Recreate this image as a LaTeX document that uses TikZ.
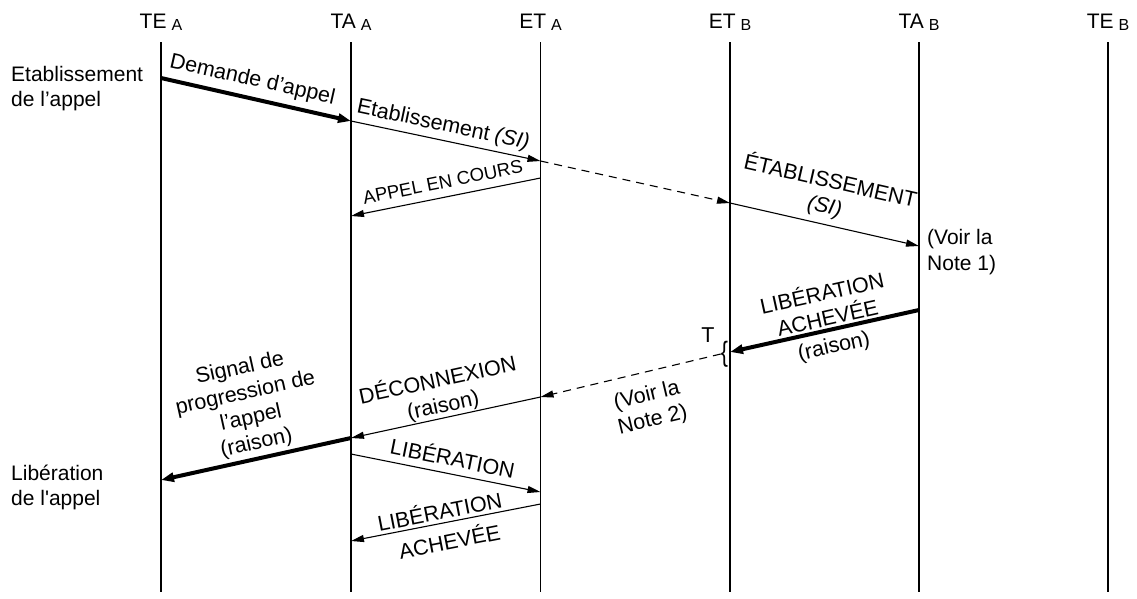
\documentclass[tikz,border=0pt]{standalone}
\usepackage{fontspec}
\setmainfont{Liberation Sans}
\usetikzlibrary{arrows.meta}

% subscript used in the lifeline headings
\newcommand{\lsub}[1]{\hspace{5pt}{\fontsize{16}{16}\selectfont\raisebox{-2.5pt}{#1}}}

\begin{document}
\begin{tikzpicture}[x=1pt,y=-1pt,
  font=\fontsize{21.5}{25.5}\selectfont,
  lifeline/.style={line width=1.1pt},
  msg/.style={line width=1.1pt,-{Triangle[length=13pt,width=7pt]}},
  bigmsg/.style={line width=4pt,-{Triangle[length=13pt,width=9pt]}},
  dmsg/.style={msg,dash pattern=on 8pt off 6pt},
  lbl/.style={sloped,align=center},
  head/.style={anchor=base,inner sep=0pt,font=\fontsize{21}{24}\selectfont},
  side/.style={align=left,anchor=base west,inner sep=0pt,font=\fontsize{21}{25}\selectfont}
]
\useasboundingbox (0,0) rectangle (1137,598);

% lifelines and their headings
\foreach \n/\x/\t/\s in {teA/161/TE/A, taA/351/TA/A, etA/540.5/ET/A,
                         etB/730/ET/B, taB/919/TA/B, teB/1108/TE/B}{
  \coordinate (\n-top) at (\x,42);
  \coordinate (\n-bot) at (\x,592);
  \node[head] (\n-head) at (\x,28) {\t\lsub{\s}};
  \draw[lifeline] (\n-top) -- (\n-bot);
}

% events on the lifelines
\coordinate (e1) at (161,78);
\coordinate (e2) at (351,121);
\coordinate (e3) at (540.5,161);
\coordinate (e4) at (730,203);
\coordinate (e5) at (919,246);
\coordinate (e6) at (540.5,178);
\coordinate (e7) at (351,216);
\coordinate (e8) at (919,310);
\coordinate (e9) at (730,352);
\coordinate (e10) at (540.5,397);
\coordinate (e11) at (351,438);
\coordinate (e12) at (161,480);
\coordinate (e13) at (351,454);
\coordinate (e14) at (540.5,492);
\coordinate (e15) at (540.5,504);
\coordinate (e16) at (351,541);

% side captions (anchored on the baseline of their last line)
\node[side] (phase1) at (11,106) {Etablissement\\de l’appel};
\node[side] (phase2) at (11,505) {Libération\\de l\textquotesingle appel};

% call set-up
\draw[bigmsg] (e1) -- node[lbl,above,inner sep=6pt,pos=0.46] (l1) {Demande d’appel} (e2);
\draw[msg] (e2) -- node[lbl,above,inner sep=4pt,pos=0.47] (l2) {Etablissement \textit{(SI)}} (e3);
\draw[dmsg] (e3) -- (e4);
\draw[msg] (e6) -- node[lbl,above,inner sep=8pt,pos=0.5,font=\fontsize{18.5}{22}\selectfont] (l3) {APPEL EN COURS} (e7);
\draw[msg] (e4) -- node[lbl,above,inner sep=6pt,pos=0.48] (l4) {ÉTABLISSEMENT\\\textit{(SI)}} (e5);
\node[side,font=\fontsize{21}{26}\selectfont] (note1) at (927,270) {(Voir la\\Note 1)};

% release
\draw[bigmsg] (e8) -- node[lbl,above,inner sep=2pt,pos=0.47] (l5) {LIBÉRATION\\ACHEVÉE}
                      node[lbl,below,inner sep=6pt,pos=0.47] (l6) {(raison)} (e9);
\node[inner sep=0pt] (tbrace) at (724.5,354) {\scalebox{1}[1.3]{\{}};
\node[inner sep=0pt] (tlabel) at (708,335) {T};
\draw[dmsg] (tbrace.west) -- node[lbl,below,inner sep=13pt,pos=0.44] (l7) {(Voir la\\Note 2)} (e10);
\draw[msg] (e10) -- node[lbl,above,inner sep=0.5pt,pos=0.5] (l8) {DÉCONNEXION\\(raison)} (e11);
\draw[bigmsg] (e11) -- node[lbl,above,inner sep=3pt,pos=0.48] (l9) {Signal de\\progression de\\l’appel\\(raison)} (e12);
\draw[msg] (e13) -- node[lbl,above,inner sep=7pt,pos=0.52] (l10) {LIBÉRATION} (e14);
\draw[msg] (e15) -- node[lbl,above,inner sep=3pt,pos=0.52] (l11) {LIBÉRATION}
                   node[lbl,below,inner sep=8pt,pos=0.5] (l12) {ACHEVÉE} (e16);
\end{tikzpicture}
\end{document}
